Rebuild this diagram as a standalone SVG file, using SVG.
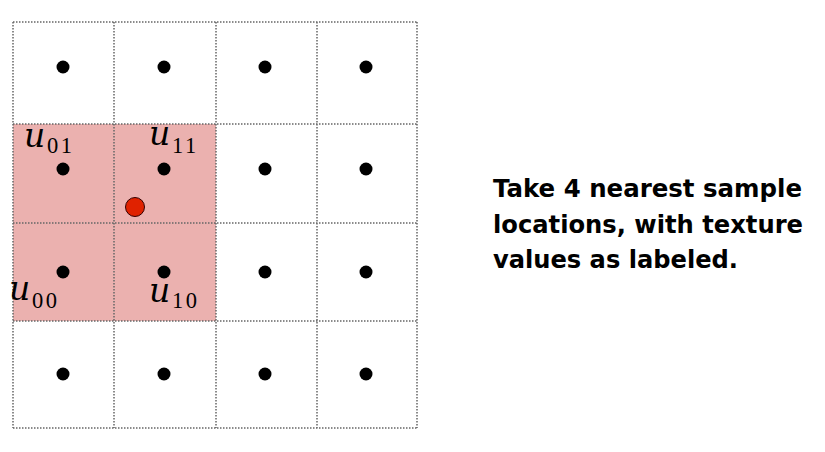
<svg xmlns="http://www.w3.org/2000/svg" width="825" height="452" viewBox="0 0 825 452">
<style>
.grid{stroke:#666;stroke-width:1.5;stroke-dasharray:1.5 1.5;fill:none}
.dot{fill:#000}
.u{font-family:"DejaVu Serif",serif;font-style:italic;font-size:33px;fill:#000}
.sub{font-family:"Liberation Serif",serif;font-size:22.5px;letter-spacing:2.5px;fill:#000}
.cap{font-family:"DejaVu Sans",sans-serif;font-weight:bold;font-size:24px;fill:#000}
</style>
<rect width="825" height="452" fill="#fff"/>
<g id="highlight"><rect x="13" y="124" width="203" height="197" fill="#ebb1af"/></g>
<g id="grid">
<path class="grid" d="M13 22H417M13 124H417M13 223H417M13 321H417M13 428H417M13 22V428M114 22V428M216 22V428M317 22V428M417 22V428"/>
</g>
<g id="samples">
<circle class="dot" cx="63" cy="67" r="6.5"/><circle class="dot" cx="164" cy="67" r="6.5"/><circle class="dot" cx="265" cy="67" r="6.5"/><circle class="dot" cx="366" cy="67" r="6.5"/>
<circle class="dot" cx="63" cy="169" r="6.5"/><circle class="dot" cx="164" cy="169" r="6.5"/><circle class="dot" cx="265" cy="169" r="6.5"/><circle class="dot" cx="366" cy="169" r="6.5"/>
<circle class="dot" cx="63" cy="272" r="6.5"/><circle class="dot" cx="164" cy="272" r="6.5"/><circle class="dot" cx="265" cy="272" r="6.5"/><circle class="dot" cx="366" cy="272" r="6.5"/>
<circle class="dot" cx="63" cy="374" r="6.5"/><circle class="dot" cx="164" cy="374" r="6.5"/><circle class="dot" cx="265" cy="374" r="6.5"/><circle class="dot" cx="366" cy="374" r="6.5"/>
</g>
<g id="query"><circle cx="135" cy="207" r="9.5" fill="#e02200" stroke="#300" stroke-width="1"/></g>
<g id="labels">
<text class="u" x="24" y="147">u</text><text class="sub" x="47" y="153">01</text>
<text class="u" x="149" y="145">u</text><text class="sub" x="172" y="153">11</text>
<text class="u" x="9" y="300">u</text><text class="sub" x="32" y="308">00</text>
<text class="u" x="149" y="302">u</text><text class="sub" x="172" y="308">10</text>
</g>
<g id="caption">
<text class="cap" x="493" y="197" textLength="309" lengthAdjust="spacingAndGlyphs">Take 4 nearest sample</text>
<text class="cap" x="493" y="233" textLength="310" lengthAdjust="spacingAndGlyphs">locations, with texture</text>
<text class="cap" x="493" y="268" textLength="245" lengthAdjust="spacingAndGlyphs">values as labeled.</text>
</g>
</svg>
